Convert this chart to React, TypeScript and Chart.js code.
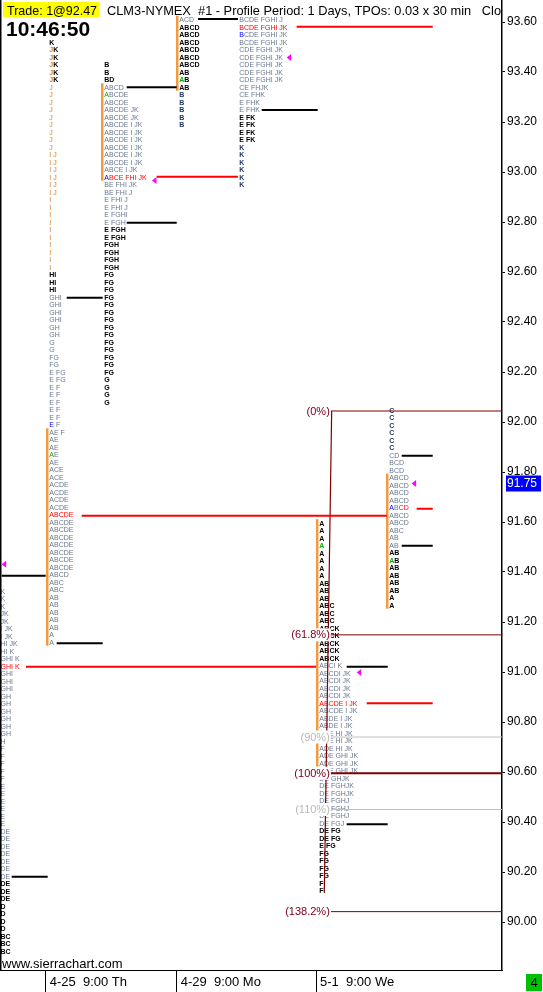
import React, { useEffect, useRef } from "react";
import { Chart, registerables } from "chart.js";

Chart.register(...registerables);

// ---------- DATA ----------
const TICK = 0.03; // TPO price increment
const Y_MIN = 89.808;
const Y_MAX = 93.688;
const X_MIN = 0;
const X_MAX = 100; // x unit = one TPO column slot

const priceTicks = [90.0, 90.2, 90.4, 90.6, 90.8, 91.0, 91.2, 91.4, 91.6, 91.8, 92.0, 92.2, 92.4, 92.6, 92.8, 93.0, 93.2, 93.4, 93.6];
const dayTickPos = [9.1, 35.2, 62.95];
const dayTickLabels = ["4-25  9:00 Th", "4-29  9:00 Mo", "5-1  9:00 We"];

const lastPrice = 91.75;
const tradeText = "Trade: 1@92.47";
const titleText = "CLM3-NYMEX  #1 - Profile Period: 1 Days, TPOs: 0.03 x 30 min   Close";
const clockText = "10:46:50";
const siteText = "www.sierrachart.com";
const pageText = "4";

// profile start column, price of first (top) row, value-area row range
const profileX = [0.1, 9.82, 20.78, 35.72, 47.67, 63.6, 77.55];
const profileTop = [91.324, 93.52, 93.43, 93.61, 93.61, 91.596, 92.048];
const profileVA: (number[] | null)[] = [null, [52, 80], [3, 15], [0, 9], null, [0, 32], [9, 26]];

// rows: [letters, colour code, repeat count]
type Row = [string, string, number];
const rows0: Row[] = [
  ["K", "g", 3], ["JK", "g", 2], ["I JK", "o+g", 2], ["HI JK", "g", 1], ["HI K", "g", 1], ["GHI K", "g", 1],
  ["GHI K", "r", 1], ["GHI", "g", 3], ["GH", "g", 6], ["H", "g", 1], ["F", "g", 5], ["E", "g", 6],
  ["DE", "g", 7], ["DE", "k", 3], ["D", "k", 4], ["BC", "k", 3],
];
const rows1: Row[] = [
  ["K", "k", 1], ["JK", "o+k", 5], ["J", "o", 9], ["I J", "o", 6], ["I", "o", 10], ["HI", "k", 3],
  ["GHI", "g", 4], ["GH", "g", 2], ["G", "g", 2], ["FG", "g", 2], ["E FG", "g", 2], ["E F", "g", 5],
  ["E F", "B+g", 1], ["AE F", "g", 1], ["AE", "g", 2], ["AE", "G+g", 1], ["AE", "g", 1], ["ACE", "g", 2],
  ["ACDE", "g", 4], ["ABCDE", "r", 1], ["ABCDE", "g", 7], ["ABCD", "g", 1], ["ABC", "g", 2], ["AB", "g", 5],
  ["A", "g", 2],
];
const rows2: Row[] = [
  ["B", "k", 2], ["BD", "k", 1], ["ABCD", "g", 1], ["ABCDE", "G+g", 1], ["ABCDE", "g", 1], ["ABCDE JK", "g", 2],
  ["ABCDE I JK", "g", 6], ["ABCE I JK", "g", 1], ["ABCE FHI JK", "B+r", 1], ["BE FHI JK", "g", 1],
  ["BE FHI J", "g", 1], ["E FHI J", "g", 2], ["E FGHI", "g", 1], ["E FGH", "g", 1], ["E FGH", "k", 2],
  ["FGH", "k", 4], ["FG", "k", 14], ["G", "k", 4],
];
const rows3: Row[] = [
  ["ACD", "g", 1], ["ABCD", "k", 6], ["AB", "k", 1], ["AB", "G+k", 1], ["AB", "k", 1], ["B", "b", 5],
];
const rows4: Row[] = [
  ["BCDE FGHI J", "g", 1], ["BCDE FGHI JK", "r", 1], ["BCDE FGHI JK", "B+g", 1], ["BCDE FGHI JK", "g", 1],
  ["CDE FGHI JK", "g", 5], ["CE FHJK", "g", 1], ["CE FHK", "g", 1], ["E FHK", "g", 2], ["E FK", "k", 4],
  ["K", "b", 6],
];
const rows5: Row[] = [
  ["A", "k", 3], ["A", "G+k", 1], ["A", "k", 4], ["AB", "k", 3], ["ABC", "k", 3], ["ABCK", "k", 5],
  ["ABCI K", "g", 1], ["ABCDI JK", "g", 4], ["ABCDE I JK", "r", 1], ["ABCDE I JK", "g", 1],
  ["ABDE I JK", "g", 2], ["ADE HI JK", "g", 3], ["ADE GHI JK", "g", 3], ["DE GHJK", "g", 1],
  ["DE FGHJK", "g", 2], ["DE FGHJ", "g", 3], ["DE FGJ", "g", 1], ["DE FG", "k", 2], ["E FG", "k", 1],
  ["FG", "k", 4], ["F", "k", 2],
];
const rows6: Row[] = [
  ["C", "b", 6], ["CD", "g", 1], ["BCD", "g", 2], ["ABCD", "g", 4], ["ABCD", "Bg+r", 1], ["ABCD", "g", 2],
  ["ABC", "g", 1], ["AB", "g", 2], ["AB", "k", 1], ["AB", "G+k", 1], ["AB", "k", 4], ["A", "k", 2],
];
const profileRows = [rows0, rows1, rows2, rows3, rows4, rows5, rows6];

// [price, x start, x end]
const pocLines = [
  [91.021, 5.18, 62.95],
  [91.625, 16.27, 77.03],
  [92.981, 31.2, 47.4],
  [93.581, 59.1, 86.2],
  [90.875, 73.05, 86.2],
  [91.653, 83.0, 86.2],
];
const vaEdgeLines = [
  [91.385, 0.34, 9.1],
  [90.181, 2.33, 9.5],
  [92.497, 13.29, 20.46],
  [91.115, 11.29, 20.46],
  [93.339, 25.24, 35.2],
  [92.797, 25.24, 35.2],
  [93.612, 39.44, 47.41],
  [93.248, 52.13, 63.29],
  [91.021, 69.06, 77.23],
  [90.391, 69.06, 77.23],
  [91.865, 80.02, 86.2],
  [91.505, 80.02, 86.2],
];
// [tip x, price]
const closeMarks = [
  [0.34, 91.431],
  [30.28, 92.966],
  [57.1, 93.458],
  [71.06, 90.998],
  [82.0, 91.754],
];

const fibHigh = 92.044;
const fibLow = 90.595;
const fibStartX = 65.9;
const fibAnchor = [
  [66.07, 92.044],
  [64.6, 90.116],
];
const fibLevels = [0, 0.618, 0.9, 1, 1.1, 1.382];
const fibLabels = ["(0%)", "(61.8%)", "(90%)", "(100%)", "(110%)", "(138.2%)"];

// ---------- STYLES ----------
const FONT = '"Liberation Sans", Arial, sans-serif';
const LETTER_COLORS: Record<string, string> = {
  g: "#687890",
  k: "#000000",
  b: "#1f3a66",
  o: "#d9822b",
  r: "#ff0000",
  G: "#00b000",
  B: "#0000ff",
};
const VA_COLOR = "#f39a3e";
const POC_COLOR = "#ff0000";
const FIB_MAJOR = "#800000";
const FIB_MINOR = "#c0c0c0";
const fibLineColors = [FIB_MAJOR, FIB_MAJOR, FIB_MINOR, FIB_MAJOR, FIB_MINOR, FIB_MAJOR];
const fibTextColors = ["#800020", "#800020", "#b8b8b8", "#800020", "#b8b8b8", "#800020"];
const fibLineWidths = [1, 1, 1, 2, 1, 1];

function expandSpec(spec: string, n: number): string[] {
  const plus = spec.indexOf("+");
  if (plus < 0) {
    return spec.length === 1 ? Array(n).fill(spec) : spec.split("");
  }
  const head = spec.slice(0, plus).split("");
  const rest = spec.slice(plus + 1);
  return Array.from({ length: n }, (_, i) => (i < head.length ? head[i] : rest));
}

const tpoPlugin = {
  id: "tpoProfiles",
  beforeDatasetsDraw(chart: any) {
    const { ctx, chartArea: a, scales } = chart;
    const x = scales.x;
    const y = scales.y;
    ctx.save();
    ctx.beginPath();
    ctx.rect(a.left, a.top, a.right - a.left, a.bottom - a.top);
    ctx.clip();
    ctx.textBaseline = "alphabetic";
    ctx.textAlign = "left";
    profileRows.forEach((rows, pi) => {
      const x0 = x.getPixelForValue(profileX[pi]);
      const top = profileTop[pi];
      const va = profileVA[pi];
      if (va) {
        const yTop = y.getPixelForValue(top - va[0] * TICK + TICK / 2);
        const yBot = y.getPixelForValue(top - va[1] * TICK - TICK / 2);
        ctx.fillStyle = VA_COLOR;
        ctx.fillRect(x0 - 3.3, yTop, 2.5, yBot - yTop);
      }
      let i = 0;
      rows.forEach(([text, spec, count]) => {
        const codes = expandSpec(spec, text.length);
        const base = spec[spec.length - 1];
        const bold = base === "k" || base === "b";
        ctx.font = (bold ? "bold " : "") + "7px " + FONT;
        for (let k = 0; k < count; k++) {
          const py = y.getPixelForValue(top - i * TICK);
          let px = x0;
          for (let c = 0; c < text.length; c++) {
            const ch = text[c];
            if (ch !== " ") {
              ctx.fillStyle = LETTER_COLORS[codes[c]] || LETTER_COLORS.g;
              ctx.fillText(ch, px, py + 2.5);
            }
            px += ctx.measureText(ch).width;
          }
          i++;
        }
      });
    });
    ctx.restore();
  },
  afterDatasetsDraw(chart: any) {
    const { ctx, chartArea: a, scales } = chart;
    const x = scales.x;
    const y = scales.y;
    ctx.save();
    ctx.beginPath();
    ctx.rect(a.left, a.top, a.right - a.left, a.bottom - a.top);
    ctx.clip();

    // fib labels
    ctx.font = "11px " + FONT;
    ctx.textAlign = "right";
    ctx.textBaseline = "middle";
    fibLevels.forEach((lv, i) => {
      const p = fibHigh - lv * (fibHigh - fibLow);
      const py = y.getPixelForValue(p);
      const px = x.getPixelForValue(fibStartX) - 1;
      const w = ctx.measureText(fibLabels[i]).width;
      ctx.fillStyle = "#ffffff";
      ctx.fillRect(px - w - 1, py - 6.5, w + 2, 13);
      ctx.fillStyle = fibTextColors[i];
      ctx.fillText(fibLabels[i], px, py + 0.5);
    });

    // close markers
    ctx.fillStyle = "#ff00ff";
    closeMarks.forEach(([mx, mp]) => {
      const px = x.getPixelForValue(mx);
      const py = y.getPixelForValue(mp);
      ctx.beginPath();
      ctx.moveTo(px, py);
      ctx.lineTo(px + 4.5, py - 3.5);
      ctx.lineTo(px + 4.5, py + 3.5);
      ctx.closePath();
      ctx.fill();
    });

    // left border
    ctx.fillStyle = "#000";
    ctx.fillRect(a.left, a.top, 1.5, a.bottom - a.top);

    // header
    ctx.textAlign = "left";
    ctx.textBaseline = "alphabetic";
    ctx.fillStyle = "#ffff00";
    ctx.fillRect(3, 2, 96, 15);
    ctx.fillStyle = "#000";
    ctx.font = "12.5px " + FONT;
    ctx.fillText(tradeText, 7, 14.5);
    ctx.font = "12.8px " + FONT;
    ctx.fillText(titleText, 107, 14.5);
    ctx.font = "bold 21px " + FONT;
    ctx.fillText(clockText, 6, 35.5);
    ctx.font = "13px " + FONT;
    ctx.fillText(siteText, 2, 967.5);
    ctx.restore();
  },
  afterDraw(chart: any) {
    const { ctx, scales } = chart;
    const y = scales.y;
    ctx.save();
    const py = y.getPixelForValue(lastPrice);
    ctx.fillStyle = "#0000ff";
    ctx.fillRect(506, py - 9, 35, 16);
    ctx.fillStyle = "#ffffff";
    ctx.font = "12px " + FONT;
    ctx.textBaseline = "middle";
    ctx.textAlign = "left";
    ctx.fillText(lastPrice.toFixed(2), 507, py - 1);
    ctx.fillStyle = "#00c000";
    ctx.fillRect(526, 974, 16, 17);
    ctx.fillStyle = "#000";
    ctx.font = "13px " + FONT;
    ctx.textAlign = "center";
    ctx.fillText(pageText, 534, 983);
    ctx.restore();
  },
};

function seg(points: number[][], color: string, width: number) {
  return {
    data: points.map(([px, py]) => ({ x: px, y: py })),
    showLine: true,
    borderColor: color,
    backgroundColor: color,
    borderWidth: width,
    pointRadius: 0,
    pointHoverRadius: 0,
    fill: false,
    tension: 0,
    borderCapStyle: "butt",
  };
}

export default function App() {
  const ref = useRef<HTMLCanvasElement | null>(null);
  useEffect(() => {
    document.body.style.margin = "0";
    const canvas = ref.current;
    if (!canvas) return;
    const datasets: any[] = [];
    pocLines.forEach(([p, x0, x1]) => datasets.push(seg([[x0, p], [x1, p]], POC_COLOR, 2)));
    vaEdgeLines.forEach(([p, x0, x1]) => datasets.push(seg([[x0, p], [x1, p]], "#000000", 2)));
    fibLevels.forEach((lv, i) => {
      const p = fibHigh - lv * (fibHigh - fibLow);
      datasets.push(seg([[fibStartX, p], [X_MAX, p]], fibLineColors[i], fibLineWidths[i]));
    });
    datasets.push(seg(fibAnchor, FIB_MAJOR, 1.2));

    const chart = new Chart(canvas, {
      type: "scatter",
      data: { datasets },
      options: {
        animation: false,
        responsive: false,
        devicePixelRatio: 1,
        events: [],
        layout: { padding: 0 },
        plugins: { legend: { display: false }, tooltip: { enabled: false } },
        scales: {
          x: {
            type: "linear",
            position: "bottom",
            min: X_MIN,
            max: X_MAX,
            afterBuildTicks: (s: any) => {
              s.ticks = dayTickPos.map((v) => ({ value: v }));
            },
            afterFit: (s: any) => {
              s.height = 22;
              s.paddingLeft = 0;
              s.paddingRight = 0;
            },
            grid: { drawOnChartArea: false, drawTicks: true, tickLength: 22, color: "#000", lineWidth: 1 },
            border: { display: true, color: "#000", width: 1 },
            ticks: {
              align: "start",
              padding: -17,
              labelOffset: 4,
              color: "#000",
              autoSkip: false,
              maxRotation: 0,
              minRotation: 0,
              font: { family: FONT, size: 13 },
              callback: (_v: any, i: number) => dayTickLabels[i],
            },
          },
          y: {
            type: "linear",
            position: "right",
            min: Y_MIN,
            max: Y_MAX,
            afterBuildTicks: (s: any) => {
              s.ticks = priceTicks.map((v) => ({ value: v }));
            },
            afterFit: (s: any) => {
              s.width = 41;
              s.paddingTop = 0;
              s.paddingBottom = 0;
            },
            grid: { drawOnChartArea: false, drawTicks: true, tickLength: 3, color: "#000", lineWidth: 1 },
            border: { display: true, color: "#000", width: 1.5 },
            ticks: {
              padding: 2,
              color: "#000",
              autoSkip: false,
              font: { family: FONT, size: 12 },
              callback: (v: any) => Number(v).toFixed(2),
            },
          },
        },
      } as any,
      plugins: [tpoPlugin],
    });
    return () => chart.destroy();
  }, []);
  return (
    <div style={{ position: "absolute", left: 0, top: 0, width: 543, height: 992, background: "#fff" }}>
      <canvas ref={ref} width={543} height={992} style={{ display: "block" }} />
    </div>
  );
}
